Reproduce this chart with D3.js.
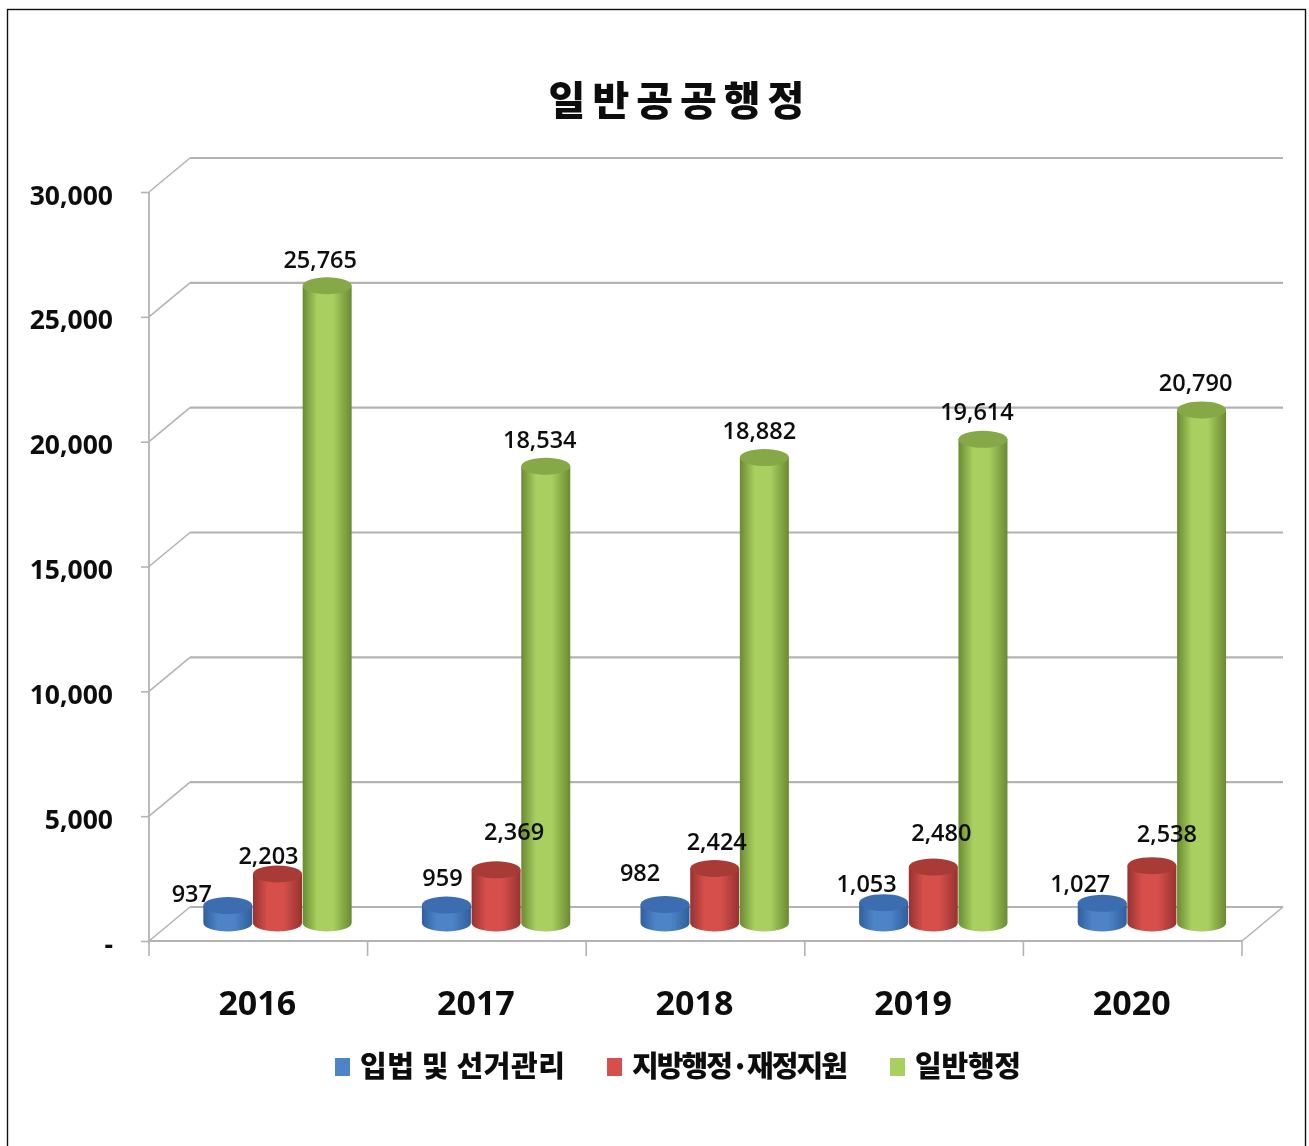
<!DOCTYPE html>
<html><head><meta charset="utf-8">
<script src="https://cdnjs.cloudflare.com/ajax/libs/d3/7.8.5/d3.min.js"></script>
<style>html,body{margin:0;padding:0;background:#fff}svg{display:block}
text{fill:#0c0c0c}</style></head><body><div id="c"></div>
<script>
const years=["2016","2017","2018","2019","2020"];
const seriesNames=["입법 및 선거관리","지방행정·재정지원","일반행정"];
const legislation=[937,959,982,1053,1027];
const localAdmin=[2203,2369,2424,2480,2538];
const generalAdmin=[25765,18534,18882,19614,20790];
const yTicks=[0,5000,10000,15000,20000,25000,30000];
const title="일반공공행정";
const palette=[
 {dark:"#2f5f9c",mid:"#4d84c8",top:"#3a6db0"},
 {dark:"#97322f",mid:"#d6504c",top:"#a83a36"},
 {dark:"#6a8a32",mid:"#a9cf60",top:"#86a846"}];
const allSeries=[legislation,localAdmin,generalAdmin];

const W=1309,H=1146;
const svg=d3.select("#c").append("svg").attr("width",W).attr("height",H).attr("font-family","'Noto Sans CJK KR','Noto Sans',sans-serif");
const defs=svg.append("defs");
palette.forEach((p,i)=>{
  const g=defs.append("linearGradient").attr("id","g"+i);
  [[0,p.dark],[0.3,p.mid],[0.62,p.mid],[1,p.dark]].forEach(s=>g.append("stop").attr("offset",s[0]).attr("stop-color",s[1]));
});
defs.append("filter").attr("id","soft").append("feGaussianBlur").attr("stdDeviation",0.6);
defs.append("filter").attr("id","softT").append("feGaussianBlur").attr("stdDeviation",0.35);
svg.append("rect").attr("x",7.5).attr("y",9.5).attr("width",1298).attr("height",1160).attr("fill","#fff").attr("stroke","#111").attr("stroke-width",1.4);

const y=d3.scaleLinear().domain([0,30000]).range([941,192]);
const x=d3.scaleBand().domain(years).range([149,1242]);
const dx=41,dy=-34;
const grid="#b3b3b3";
const wall=svg.append("g").attr("filter","url(#soft)");
yTicks.forEach(t=>{
  wall.append("line").attr("x1",x.range()[0]+dx).attr("x2",x.range()[1]+dx).attr("y1",y(t)+dy).attr("y2",y(t)+dy).attr("stroke",grid).attr("stroke-width",2.2);
  wall.append("line").attr("x1",x.range()[0]).attr("x2",x.range()[0]+dx).attr("y1",y(t)).attr("y2",y(t)+dy).attr("stroke",grid).attr("stroke-width",1.6);
});
const ax=svg.append("g").attr("filter","url(#soft)");
const yAxis=d3.axisLeft(y).tickValues(yTicks).tickSize(8).tickFormat("");
const gy=ax.append("g").attr("transform","translate(149,0)").call(yAxis);
gy.select(".domain").attr("stroke",grid).attr("stroke-width",1.8).attr("d","M0,192V941");
gy.selectAll(".tick line").attr("stroke",grid).attr("stroke-width",1.6);
const xAxis=d3.axisBottom(x).tickSize(0).tickFormat("");
const gx=ax.append("g").attr("transform","translate(0,941)").call(xAxis);
gx.select(".domain").attr("stroke",grid).attr("stroke-width",2.2).attr("d","M149,0H1242");
[...x.domain().map(d=>x(d)),1242].forEach(v=>ax.append("line").attr("x1",v).attr("x2",v).attr("y1",941).attr("y2",956).attr("stroke",grid).attr("stroke-width",1.6));
ax.append("line").attr("x1",1242).attr("x2",1242+dx).attr("y1",941).attr("y2",941+dy).attr("stroke",grid).attr("stroke-width",1.6);

const inner=d3.scaleBand().domain([0,1,2]).range([54,203]);
const baseY=923,topShift=-12,labelShift=-14,rx=24.5,ry=8.5;
const bars=svg.append("g").attr("filter","url(#soft)");
const textLayer=svg.append("g").attr("filter","url(#softT)");
yTicks.forEach(t=>{
  textLayer.append("text").attr("x",113).attr("y",y(t)+12.5).attr("text-anchor","end")
    .attr("font-family","'Open Sans',sans-serif").attr("font-size",26.5).attr("font-weight",700)
    .text(t===0?"-":d3.format(",")(t));
});
years.forEach(d=>{
  textLayer.append("text").attr("x",x(d)+x.bandwidth()/2-1).attr("y",1015).attr("text-anchor","middle")
    .attr("font-family","'Open Sans',sans-serif").attr("font-size",34).attr("font-weight",700).text(d);
});
const labelOffsetX=[[-37,-5,-26,-18,-23],[-10,17,1,7,14],[-8,-7,-6,-7,-7]];
const labelOffsetY=[[-2,-17,-21,-9,-9],[-8,-28,-16.5,-24,-22],[-16,-16,-16.5,-17,-17]];
allSeries.forEach((vals,si)=>{
  vals.forEach((v,ci)=>{
    const cx=x(years[ci])+inner(si)+inner.bandwidth()/2;
    const top=y(v)+topShift;
    const g=bars.append("g");
    g.append("path").attr("d",`M${cx-rx},${top}V${baseY}A${rx},${ry} 0 0 0 ${cx+rx},${baseY}V${top}Z`).attr("fill",`url(#g${si})`);
    g.append("ellipse").attr("cx",cx).attr("cy",top).attr("rx",rx).attr("ry",ry).attr("fill",palette[si].top);
    textLayer.append("text").attr("x",cx+1+labelOffsetX[si][ci]).attr("y",y(v)+labelShift+labelOffsetY[si][ci]).attr("text-anchor","middle")
      .attr("font-family","'Open Sans',sans-serif").attr("font-size",23.5).attr("font-weight",600).text(d3.format(",")(v));
  });
});
textLayer.append("text").attr("x",680).attr("y",115).attr("text-anchor","middle").attr("font-size",40).attr("font-weight",900).attr("letter-spacing",7).text(title);
const legendX=[335,607,890];
const legendLen=[205,216,106];
seriesNames.forEach((n,i)=>{
  textLayer.append("rect").attr("x",legendX[i]).attr("y",1058).attr("width",15).attr("height",18).attr("fill",palette[i].mid);
  textLayer.append("text").attr("x",legendX[i]+25).attr("y",1077).attr("font-size",29).attr("font-weight",900)
    .attr("textLength",legendLen[i]).attr("lengthAdjust","spacing").text(n);
});
</script></body></html>
